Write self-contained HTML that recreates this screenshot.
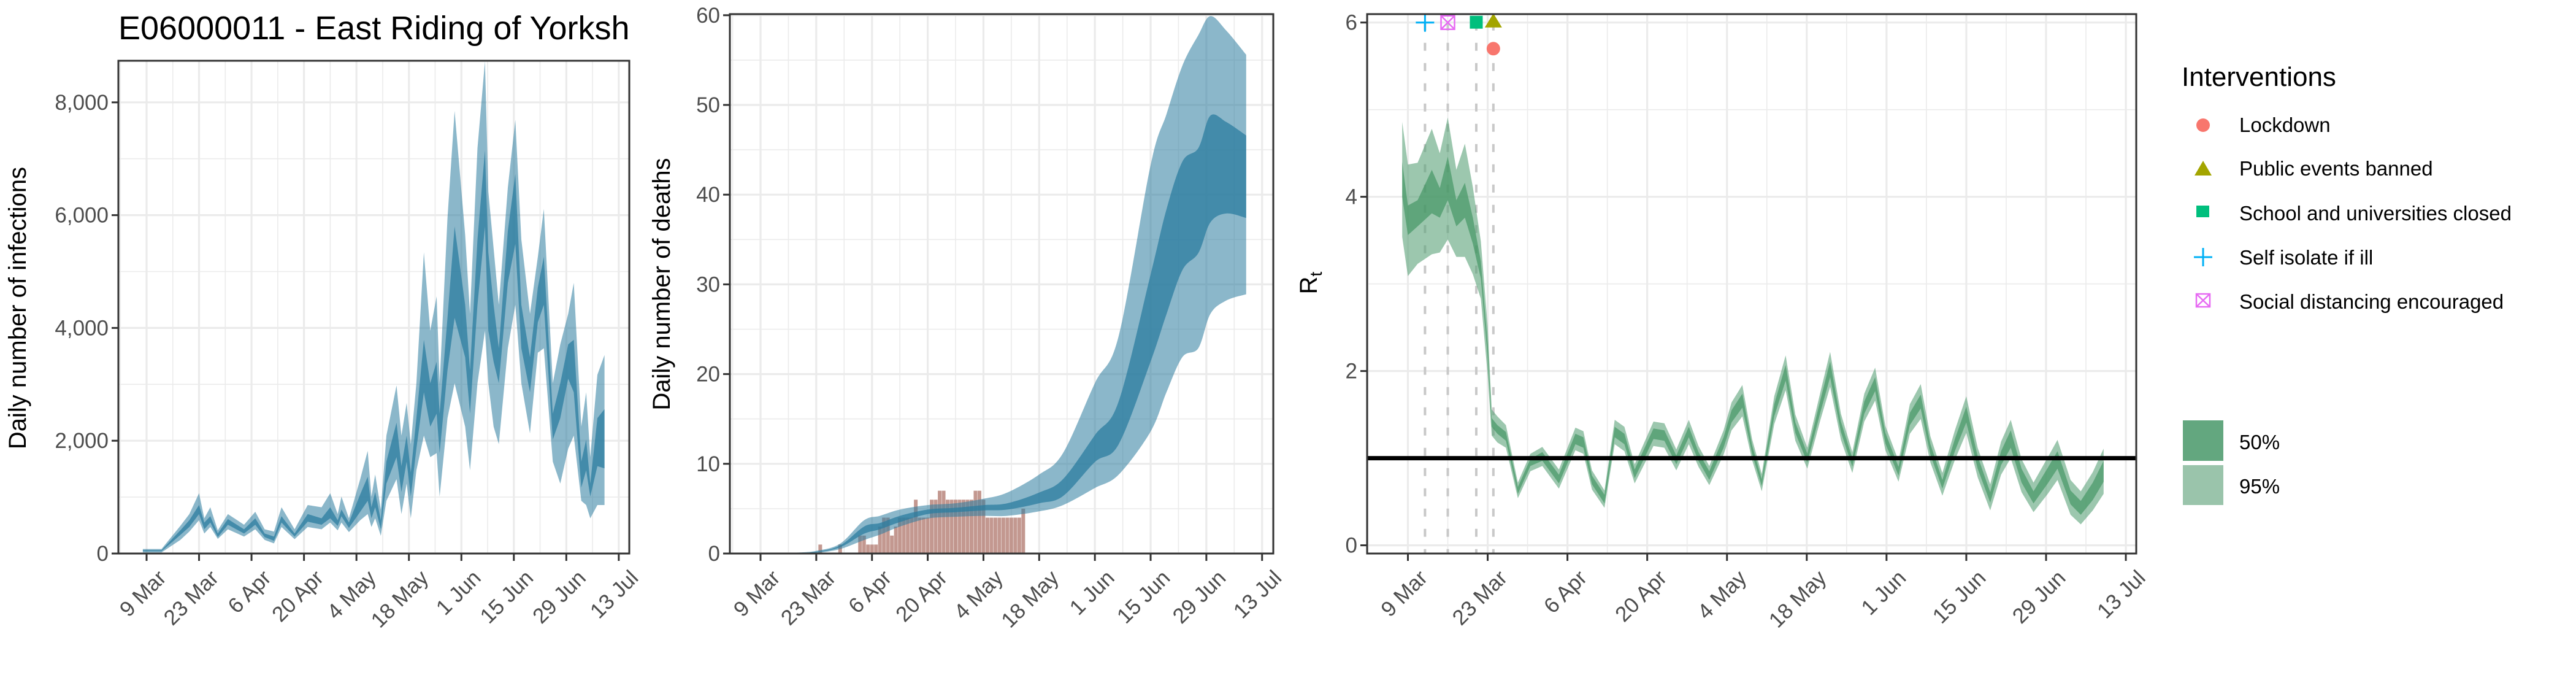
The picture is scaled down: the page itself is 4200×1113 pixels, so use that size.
<!DOCTYPE html>
<html><head><meta charset="utf-8"><style>
html,body{margin:0;padding:0;background:#fff;}
svg{display:block;font-family:"Liberation Sans",Arial,sans-serif;}
</style></head><body>
<svg id="chart" width="4200" height="1113" viewBox="0 0 4200 1113" xmlns="http://www.w3.org/2000/svg">
<rect x="0" y="0" width="4200" height="1113" fill="#fff"/>
<text x="193" y="64" font-size="54" fill="#000">E06000011 - East Riding of Yorksh</text>
<g id="p1"></g>
<g id="p2"></g>
<g id="p3"></g>
<g id="legend">
<text x="3557" y="140" font-size="44">Interventions</text>
<circle cx="3592" cy="204" r="11" fill="#f8766d"/>
<text x="3651" y="215" font-size="33">Lockdown</text>
<polygon points="3578,286 3606,286 3592,262" fill="#a3a500"/>
<text x="3651" y="286" font-size="33">Public events banned</text>
<rect x="3581" y="335" width="21" height="19" fill="#00bf7d"/>
<text x="3651" y="359" font-size="33">School and universities closed</text>
<path d="M3577,419 H3607 M3592,404 V434" stroke="#00b0f6" stroke-width="3"/>
<text x="3651" y="431" font-size="33">Self isolate if ill</text>
<path d="M3581,479 h22 v21 h-22 z M3581,479 L3603,500 M3603,479 L3581,500" stroke="#e76bf3" stroke-width="2.5" fill="none"/>
<text x="3651" y="503" font-size="33">Social distancing encouraged</text>
<rect x="3559" y="685" width="66" height="66" fill="#63a77f"/>
<text x="3651" y="732" font-size="33">50%</text>
<rect x="3559" y="758" width="66" height="65" fill="#9ac4ab"/>
<text x="3651" y="804" font-size="33">95%</text>
</g>
</svg>
<script>
// ---------- shared ----------
const tickLabels = ["9 Mar","23 Mar","6 Apr","20 Apr","4 May","18 May","1 Jun","15 Jun","29 Jun","13 Jul"];
const tickDays = [0,14,28,42,56,70,84,98,112,126];

// ---------- panel 1: infections ----------
const infDays = [-1,4,9,11.4,14,15.4,17,19,21.7,26,29,31.5,34,36,39.5,43,46.7,49,51,52,54,57,59,60,61,62.5,64,66.7,68,69.4,70.5,72,74,75.7,77.4,78.2,80.3,82.2,85,86.3,88.3,90.3,91.2,92.6,94,96.4,98.4,100,102.3,104.4,106,108.4,110.4,112.5,114,116,117.3,118.4,120.3,122.2];
const infU95 = [80,80,490,700,1070,625,820,410,700,510,740,430,390,820,430,860,820,1070,700,1010,625,1320,1820,1010,1400,780,2090,2980,2090,2670,1940,3020,5340,3950,4560,3020,5950,7850,5650,4250,7190,8730,6420,5410,4410,6490,7690,5570,4250,5260,6110,3020,3710,4250,4800,2250,2860,1710,3170,3520];
const infU50 = [60,60,410,590,860,550,660,355,610,430,625,355,300,660,355,700,625,820,590,780,550,1050,1360,820,1090,590,1630,2320,1550,2090,1440,2400,3790,3020,3400,2480,4180,5800,4410,3250,5570,7150,5340,4410,3640,5720,6730,4410,3480,4720,5260,2480,3020,3710,3790,1630,2020,1240,2400,2560];
const infL50 = [40,40,330,470,700,430,550,290,510,355,510,290,225,550,300,565,510,625,490,660,455,740,935,625,820,430,1240,1710,1090,1630,1010,1860,2860,2250,2480,1780,3250,4180,3480,2480,4410,5800,3950,3400,3020,4800,5490,3640,2860,4100,4410,2020,2400,3100,2860,1170,1475,1010,1550,1510];
const infL95 = [20,20,240,390,590,355,470,260,430,300,430,240,180,470,255,470,430,550,410,550,380,590,700,470,625,315,935,1320,700,1240,625,1475,2090,1710,1780,1010,2400,3020,2250,1475,3020,3950,3020,2250,1940,3640,4410,3020,2130,3560,3640,1630,1240,1860,2090,935,860,625,860,860];
const infTicks = [0,2000,4000,6000,8000];
const infTickLabels = ["0","2,000","4,000","6,000","8,000"];

// ---------- panel 2: deaths ----------
const dDays = [9,14,20,26,30,35,42,49,56,62,70,76,84,90,98,102,106,110,113,117,122];
const dU95 = [0.1,0.3,1.1,3.7,4.2,4.9,5.4,5.6,6.1,6.8,8.8,11.2,19,24.3,43.3,49,54.4,57.8,59.9,58.3,55.6];
const dU50 = [0.05,0.2,0.9,3.0,3.4,4.2,4.9,5.1,5.4,5.6,6.8,8.3,13.2,17,31.1,38.4,43.7,45.2,48.8,48.1,46.6];
const dL50 = [0.02,0.12,0.7,2.2,2.7,3.5,4.4,4.6,4.8,4.9,5.6,6.4,10.2,12.2,21.4,26.7,31.6,33.5,36.9,37.9,37.4];
const dL95 = [0,0.05,0.5,1.5,2.1,3.0,3.9,4.1,4.2,4.2,4.7,5.4,7.3,8.8,13.6,18,21.9,22.9,26.7,28.2,28.9];
const barDays = [15,20,25,26,27,28,29,30,31,32,33,34,35,36,37,38,39,40,41,42,43,44,45,46,47,48,49,50,51,52,53,54,55,56,57,58,59,60,61,62,63,64,65,66];
const barDeaths = [1,1,2,2,1,1,1,3,4,4,2,3,4,4,4,4,6,4,4,4,6,6,7,7,6,6,6,6,6,6,6,7,7,6,4,4,4,4,4,4,4,4,4,5];
const dTicks = [0,10,20,30,40,50,60];
const dTickLabels = ["0","10","20","30","40","50","60"];

// ---------- panel 3: Rt ----------
const rtDays = [-1,0,1.7,4.2,5.6,7,8.5,10,11.4,12.8,14,14.7,15.7,17.2,19.3,21.5,23.6,26.5,29.4,30.8,32.3,34.5,36.3,38,39.8,43.1,45,47.1,49.3,51,52.9,55.4,56.8,58.7,60.4,62.1,64.3,66.3,68,70.1,72.4,74.1,76,78,80.1,82,83.8,86.1,88.1,90,91.7,93.8,96,98,100,102.2,104.1,105.8,107.7,109.8,112.3,114,116.3,118.1,120.2,122.1];
const rtMed = [4.2,3.73,3.81,4.06,3.93,4.21,3.81,3.96,3.61,3.16,2.23,1.41,1.33,1.25,0.63,0.95,1.02,0.76,1.22,1.18,0.75,0.53,1.3,1.22,0.82,1.28,1.26,0.98,1.3,1.02,0.8,1.18,1.48,1.66,1.1,0.72,1.55,1.98,1.35,1.0,1.6,2.02,1.36,0.95,1.58,1.85,1.23,0.85,1.45,1.65,1.1,0.7,1.15,1.5,0.95,0.55,1.0,1.22,0.8,0.55,0.8,0.98,0.55,0.43,0.62,0.85];
const rtW50 = [0.2,0.17,0.15,0.25,0.17,0.25,0.15,0.2,0.15,0.1,0.08,0.05,0.05,0.05,0.04,0.04,0.05,0.05,0.06,0.06,0.05,0.05,0.06,0.06,0.05,0.06,0.06,0.05,0.06,0.05,0.05,0.06,0.07,0.08,0.05,0.04,0.07,0.09,0.06,0.05,0.07,0.09,0.06,0.05,0.07,0.08,0.06,0.05,0.07,0.08,0.06,0.05,0.07,0.09,0.07,0.06,0.08,0.1,0.08,0.07,0.09,0.1,0.08,0.08,0.1,0.12];
const rtW95 = [0.66,0.64,0.58,0.72,0.57,0.7,0.5,0.65,0.5,0.33,0.28,0.15,0.15,0.13,0.09,0.1,0.11,0.11,0.13,0.13,0.11,0.1,0.14,0.14,0.11,0.14,0.14,0.12,0.14,0.12,0.11,0.14,0.16,0.18,0.12,0.1,0.16,0.2,0.15,0.12,0.16,0.2,0.15,0.12,0.16,0.19,0.14,0.12,0.17,0.2,0.15,0.13,0.17,0.21,0.17,0.15,0.19,0.22,0.19,0.17,0.21,0.23,0.2,0.19,0.22,0.26];
const rtTicks = [0,2,4,6];
const rtTickLabels = ["0","2","4","6"];
const intNames = ["self-isolate","social-distancing","school-closed","public-events","lockdown"];
const intDays = [3,7,12,15,15];
const intY = [6,6,6,6,5.7];

const NS = "http://www.w3.org/2000/svg";
function mk(parent, tag, attrs){ const e=document.createElementNS(NS,tag); for(const k in attrs) e.setAttribute(k,attrs[k]); parent.appendChild(e); return e; }

function frame(g, P, yT, yLab, yTitle, titleX, titleY){
  const minorX = tickDays.slice(0,-1).map(d=>d+7).concat([-7]);
  minorX.forEach(d=>{ const x=P.x(d); if(x>P.l&&x<P.r){ const ln=mk(g,'line',{x1:x,x2:x,y1:P.t,y2:P.b,stroke:'#ebebeb','stroke-width':1.6});
      }});
  P.minorY.forEach(v=>{ const y=P.y(v); const ln=mk(g,'line',{x1:P.l,x2:P.r,y1:y,y2:y,stroke:'#ebebeb','stroke-width':1.6});
      });
  tickDays.forEach(d=>{ const x=P.x(d); const ln=mk(g,'line',{x1:x,x2:x,y1:P.t,y2:P.b,stroke:'#ebebeb','stroke-width':3.2});
      });
  yT.forEach(v=>{ const y=P.y(v); const ln=mk(g,'line',{x1:P.l,x2:P.r,y1:y,y2:y,stroke:'#ebebeb','stroke-width':3.2});
      });
  yT.forEach((v,i)=>{ const y=P.y(v);
    const tk=mk(g,'line',{x1:P.l-11,x2:P.l,y1:y,y2:y,stroke:'#333','stroke-width':3});
     
    const t=mk(g,'text',{x:P.l-16,y:y+12,'font-size':35,fill:'#4d4d4d','text-anchor':'end'}); t.textContent=yLab[i];
      });
  tickDays.forEach((d,i)=>{ const x=P.x(d);
    const tk=mk(g,'line',{x1:x,x2:x,y1:P.b,y2:P.b+12,stroke:'#333','stroke-width':3});
     
    const ax=x+16, ay=P.b+24;
    const t=mk(g,'text',{x:ax,y:ay,'font-size':35,fill:'#4d4d4d','text-anchor':'end',dy:'0.72em',transform:`rotate(-45 ${ax} ${ay})`}); t.textContent=tickLabels[i];
      });
  const yt=mk(g,'text',{x:titleX,y:titleY,'font-size':40,fill:'#000','text-anchor':'middle',transform:`rotate(-90 ${titleX} ${titleY})`});
  yt.innerHTML=yTitle;
   
}
function border(g,P){ const b=mk(g,'rect',{x:P.l,y:P.t,width:P.r-P.l,height:P.b-P.t,fill:'none',stroke:'#333','stroke-width':3});
    }
function band(g,P,days,lo,hi,fill,op,name){
  let pts=days.map((d,i)=>P.x(d).toFixed(1)+','+P.y(hi[i]).toFixed(1));
  for(let i=days.length-1;i>=0;i--) pts.push(P.x(days[i]).toFixed(1)+','+P.y(lo[i]).toFixed(1));
  const p=mk(g,'polygon',{points:pts.join(' '),fill:fill,'fill-opacity':op});
   
}
// smooth band (Catmull-Rom through data points)
function crPath(pts, start){
  let d = start ? `M${pts[0][0]},${pts[0][1]}` : `L${pts[0][0]},${pts[0][1]}`;
  for(let i=0;i<pts.length-1;i++){
    const p0=pts[Math.max(i-1,0)], p1=pts[i], p2=pts[i+1], p3=pts[Math.min(i+2,pts.length-1)];
    const c1=[p1[0]+(p2[0]-p0[0])/6, p1[1]+(p2[1]-p0[1])/6];
    const c2=[p2[0]-(p3[0]-p1[0])/6, p2[1]-(p3[1]-p1[1])/6];
    d+=` C${c1[0].toFixed(1)},${c1[1].toFixed(1)} ${c2[0].toFixed(1)},${c2[1].toFixed(1)} ${p2[0].toFixed(1)},${p2[1].toFixed(1)}`;
  }
  return d;
}
function smoothBand(g,P,days,lo,hi,fill,op,name){
  const up=days.map((d,i)=>[P.x(d),P.y(hi[i])]);
  const dn=days.map((d,i)=>[P.x(d),P.y(lo[i])]).reverse();
  const p=mk(g,'path',{d:crPath(up,true)+' '+crPath(dn,false)+' Z',fill:fill,'fill-opacity':op});
   
}

// Panel 1
(function(){
  const g=document.getElementById('p1');
  const P={l:193,r:1026,t:99,b:902,minorY:[1000,3000,5000,7000]};
  P.x=d=>239+d*6.11; P.y=v=>902-v*(735.2/8000);
  frame(g,P,infTicks,infTickLabels,'Daily number of infections',42,502);
  band(g,P,infDays,infL95,infU95,'#2b7c9f',0.55,'infections-95-band');
  band(g,P,infDays,infL50,infU50,'#2b7c9f',0.75,'infections-50-band');
  border(g,P);
})();
// Panel 2
(function(){
  const g=document.getElementById('p2');
  const P={l:1190,r:2076,t:23,b:902,minorY:[5,15,25,35,45,55]};
  P.x=d=>1240+d*6.49; P.y=v=>902-v*(877.2/60);
  frame(g,P,dTicks,dTickLabels,'Daily number of deaths',1092,463);
  barDays.forEach((d,i)=>{ const w=6.0; const r=mk(g,'rect',{x:P.x(d)-w/2,y:P.y(barDeaths[i]),width:w,height:P.y(0)-P.y(barDeaths[i]),fill:'#b47e74','fill-opacity':0.8});
      });
  smoothBand(g,P,dDays,dL95,dU95,'#2b7c9f',0.55,'deaths-95-band');
  smoothBand(g,P,dDays,dL50,dU50,'#2b7c9f',0.75,'deaths-50-band');
  border(g,P);
})();
// Panel 3
(function(){
  const g=document.getElementById('p3');
  const P={l:2229,r:3483,t:23,b:902,minorY:[1,3,5]};
  P.x=d=>2295.5+d*9.29; P.y=v=>888.6-v*(851.9/6);
  frame(g,P,rtTicks,rtTickLabels,'R<tspan font-size="28" dy="8">t</tspan>',2147,461);
  intDays.forEach((d,i)=>{ if(i===4) return; const x=P.x(d);
    const l=mk(g,'line',{x1:x,x2:x,y1:P.y(6),y2:P.b,stroke:'#c8c8c8','stroke-width':4,'stroke-dasharray':'13,20'});
      });
  const lo95=rtMed.map((m,i)=>m-rtW95[i]), hi95=rtMed.map((m,i)=>m+rtW95[i]);
  const lo50=rtMed.map((m,i)=>m-rtW50[i]), hi50=rtMed.map((m,i)=>m+rtW50[i]);
  band(g,P,rtDays,lo95,hi95,'#5aa278',0.6,'rt-95-band');
  band(g,P,rtDays,lo50,hi50,'#3f945f',0.65,'rt-50-band');
  const h=mk(g,'line',{x1:P.l,x2:P.r,y1:P.y(1),y2:P.y(1),stroke:'#000','stroke-width':7});
   
  intNames.forEach((n,i)=>{ const x=P.x(intDays[i]), y=P.y(intY[i]); let e;
    if(n==='self-isolate') e=mk(g,'path',{d:`M${x-15},${y} H${x+15} M${x},${y-15} V${y+15}`,stroke:'#00b0f6','stroke-width':3});
    else if(n==='social-distancing') e=mk(g,'path',{d:`M${x-11},${y-11} h22 v22 h-22 z M${x-11},${y-11} L${x+11},${y+11} M${x+11},${y-11} L${x-11},${y+11}`,stroke:'#e76bf3','stroke-width':2.5,fill:'none'});
    else if(n==='school-closed') e=mk(g,'rect',{x:x-10.5,y:y-11,width:21,height:21,fill:'#00bf7d'});
    else if(n==='public-events') e=mk(g,'polygon',{points:`${x-14},${y+8} ${x+14},${y+8} ${x},${y-15}`,fill:'#a3a500'});
    else e=mk(g,'circle',{cx:x,cy:y,r:11,fill:'#f8766d'});
      });
  border(g,P);
})();
</script>
</body></html>
